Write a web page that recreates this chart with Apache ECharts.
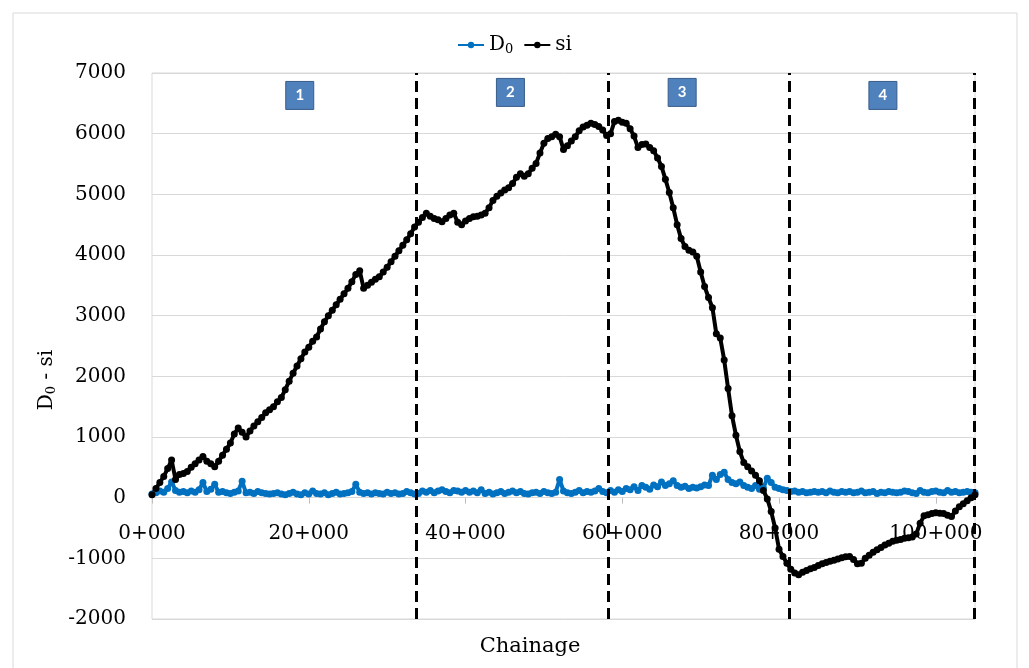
<!DOCTYPE html>
<html>
<head>
<meta charset="utf-8">
<title>D0 - si</title>
<script src="https://cdn.jsdelivr.net/npm/echarts@6/dist/echarts.min.js"></script>
<style>
  html, body { margin: 0; padding: 0; background: #fff; }
  #chart { width: 1029px; height: 668px; }
</style>
</head>
<body>
<div id="chart"></div>
<script>
// readings every 500 m of chainage
const chainageStep = 500;

// D0 readings
const d0Values = [
  60, 80, 110, 90, 150, 260, 120, 90, 100, 80,
  110, 90, 130, 250, 100, 140, 220, 90, 100, 80,
  70, 90, 110, 270, 80, 90, 70, 100, 80, 70,
  60, 70, 80, 60, 50, 70, 90, 60, 50, 80,
  60, 110, 70, 60, 80, 50, 70, 90, 60, 70,
  80, 100, 220, 90, 70, 80, 60, 80, 70, 60,
  90, 70, 80, 60, 70, 100, 80, 60, 70, 110,
  90, 120, 80, 110, 130, 100, 80, 120, 110, 90,
  120, 90, 110, 80, 130, 70, 90, 60, 80, 100,
  70, 90, 110, 80, 100, 70, 60, 80, 90, 70,
  100, 80, 70, 90, 300, 110, 80, 70, 90, 120,
  80, 100, 90, 110, 150, 100, 80, 120, 90, 130,
  100, 150, 130, 180, 120, 200, 170, 140, 210, 180,
  260, 200, 230, 280, 200, 170, 190, 150, 170, 160,
  180, 210, 200, 370, 300, 380, 420, 300, 250, 230,
  260, 200, 170, 150, 200, 140, 160, 320, 250, 170,
  150, 130, 120, 100, 110, 90, 100, 80, 90, 100,
  90, 100, 80, 110, 90, 80, 100, 90, 100, 80,
  90, 110, 80, 90, 100, 70, 90, 80, 100, 90,
  80, 90, 110, 100, 80, 70, 120, 90, 80, 100,
  110, 90, 80, 120, 90, 100, 80, 90, 100, 90,
  80
];

// si (cumulative) values
const siValues = [
  50, 150, 250, 350, 480, 620, 300, 380, 400, 430,
  500, 560, 620, 680, 600, 560, 510, 600, 700, 800,
  900, 1050, 1150, 1080, 1000, 1100, 1180, 1250, 1320, 1400,
  1450, 1500, 1580, 1650, 1780, 1920, 2050, 2170, 2290, 2400,
  2480, 2580, 2650, 2780, 2900, 3000, 3090, 3180, 3270, 3360,
  3450, 3560, 3680, 3740, 3450, 3500, 3550, 3600, 3640, 3720,
  3800, 3890, 3980, 4070, 4160, 4250, 4350, 4460, 4540, 4620,
  4690, 4640, 4600, 4580, 4550, 4600, 4660, 4690, 4540, 4500,
  4560, 4600, 4630, 4640, 4660, 4690, 4780, 4900, 4970, 5020,
  5070, 5110, 5180, 5280, 5340, 5300, 5340, 5430, 5510, 5680,
  5840, 5920, 5950, 5990, 5950, 5740, 5800, 5880, 5950, 6050,
  6110, 6140, 6170, 6150, 6120, 6060, 5970, 6000, 6200, 6220,
  6190, 6170, 6080, 5960, 5770, 5820, 5830, 5770, 5720, 5600,
  5460, 5250, 5030, 4780, 4500, 4270, 4140, 4080, 4050, 3980,
  3720, 3480, 3300, 3130, 2700, 2630, 2270, 1800, 1350, 1030,
  760, 580, 510, 440, 370, 280, 120, -20, -230, -500,
  -850, -970, -1080, -1180, -1240, -1270, -1230, -1200, -1170, -1150,
  -1120, -1090, -1070, -1050, -1030, -1010, -990, -975, -970, -1020,
  -1090, -1080, -1000, -950, -900, -860, -820, -780, -750, -720,
  -700, -690, -670, -660, -650, -600, -420, -300, -280, -260,
  -250, -255, -260, -290, -310, -220, -150, -100, -50, 0,
  50
];

const xTickLabels = ['0+000', '20+000', '40+000', '60+000', '80+000', '100+000'];

// section boundaries (dashed lines) and section tags
const sectionBounds = [33760, 58200, 81270, 104850];
const sectionNames = ['1', '2', '3', '4'];
const sectionLabelX = [18850, 45730, 67640, 93250];
const sectionLabelY = [6630, 6680, 6680, 6630];

const serif = '"DejaVu Serif", "Liberation Serif", serif';
const subRich = {
  n: { fontFamily: serif, fontSize: 20, color: '#000' },
  s: { fontFamily: serif, fontSize: 13, color: '#000', verticalAlign: 'bottom', padding: [9, 0, 0, 0] }
};

const chart = echarts.init(document.getElementById('chart'));

const option = {
  animation: false,
  backgroundColor: '#fff',
  graphic: [
    {
      type: 'rect', silent: true, z: -10,
      shape: { x: 13, y: 13, width: 1004, height: 700 },
      style: { fill: 'none', stroke: '#d9d9d9', lineWidth: 1 }
    },
    {
      type: 'text', silent: true, x: 530, y: 647,
      style: { text: 'Chainage', fontFamily: serif, fontSize: 21, fill: '#000', align: 'center', verticalAlign: 'middle' }
    },
    {
      type: 'text', silent: true, x: 47, y: 380, rotation: Math.PI / 2,
      style: { text: '{n|D}{s|0}{n| - si}', rich: subRich, align: 'center', verticalAlign: 'middle' }
    }
  ],
  legend: {
    top: 30,
    left: 'center',
    itemWidth: 26,
    itemHeight: 8,
    itemGap: 10,
    data: ['D0', 'si'],
    formatter: name => name === 'D0' ? '{n|D}{s|0}' : '{n|si}',
    textStyle: { rich: subRich }
  },
  grid: {
    left: 152, right: 54, top: 73, bottom: 49,
    show: true, borderColor: '#d9d9d9', borderWidth: 1
  },
  xAxis: {
    type: 'value',
    min: 0,
    max: 105000,
    interval: 20000,
    // axis sits on the zero line (7/9 down the plot)
    offset: -546 * 2 / 9,
    axisLine: { onZero: false, lineStyle: { color: '#d9d9d9' } },
    axisTick: { show: true, length: 6, lineStyle: { color: '#bfbfbf' } },
    splitLine: { show: false },
    axisLabel: {
      margin: 26,
      showMaxLabel: false,
      fontFamily: serif, fontSize: 20, color: '#000',
      formatter: v => xTickLabels[Math.round(v / 20000)] || ''
    }
  },
  yAxis: {
    type: 'value',
    min: -2000,
    max: 7000,
    interval: 1000,
    axisLine: { show: false },
    axisTick: { show: false },
    splitLine: { lineStyle: { color: '#d9d9d9', width: 1 } },
    axisLabel: { margin: 26, fontFamily: serif, fontSize: 20, color: '#000', formatter: v => String(v) }
  },
  series: [
    {
      name: 'D0',
      type: 'line',
      symbol: 'circle',
      symbolSize: 7,
      lineStyle: { color: '#0070C0', width: 4 },
      itemStyle: { color: '#0070C0' },
      data: d0Values.map((v, i) => [i * chainageStep, v])
    },
    {
      name: 'si',
      type: 'line',
      symbol: 'circle',
      symbolSize: 7,
      lineStyle: { color: '#000', width: 4 },
      itemStyle: { color: '#000' },
      data: siValues.map((v, i) => [i * chainageStep, v]),
      markLine: {
        silent: true,
        symbol: ['none', 'none'],
        label: { show: false },
        lineStyle: { color: '#000', width: 3, type: [11, 6] },
        data: sectionBounds.map(x => ({ xAxis: x }))
      },
      markPoint: {
        silent: true,
        symbol: 'rect',
        symbolSize: [28, 28],
        itemStyle: { color: '#4F81BD', borderColor: '#385D8A', borderWidth: 1 },
        label: {
          show: true, formatter: '{b}', color: '#fff',
          fontFamily: 'Lato, "Open Sans", sans-serif', fontWeight: 'bold', fontSize: 15
        },
        data: sectionNames.map((n, i) => ({ name: n, coord: [sectionLabelX[i], sectionLabelY[i]] }))
      }
    }
  ]
};

chart.setOption(option);
</script>
</body>
</html>
